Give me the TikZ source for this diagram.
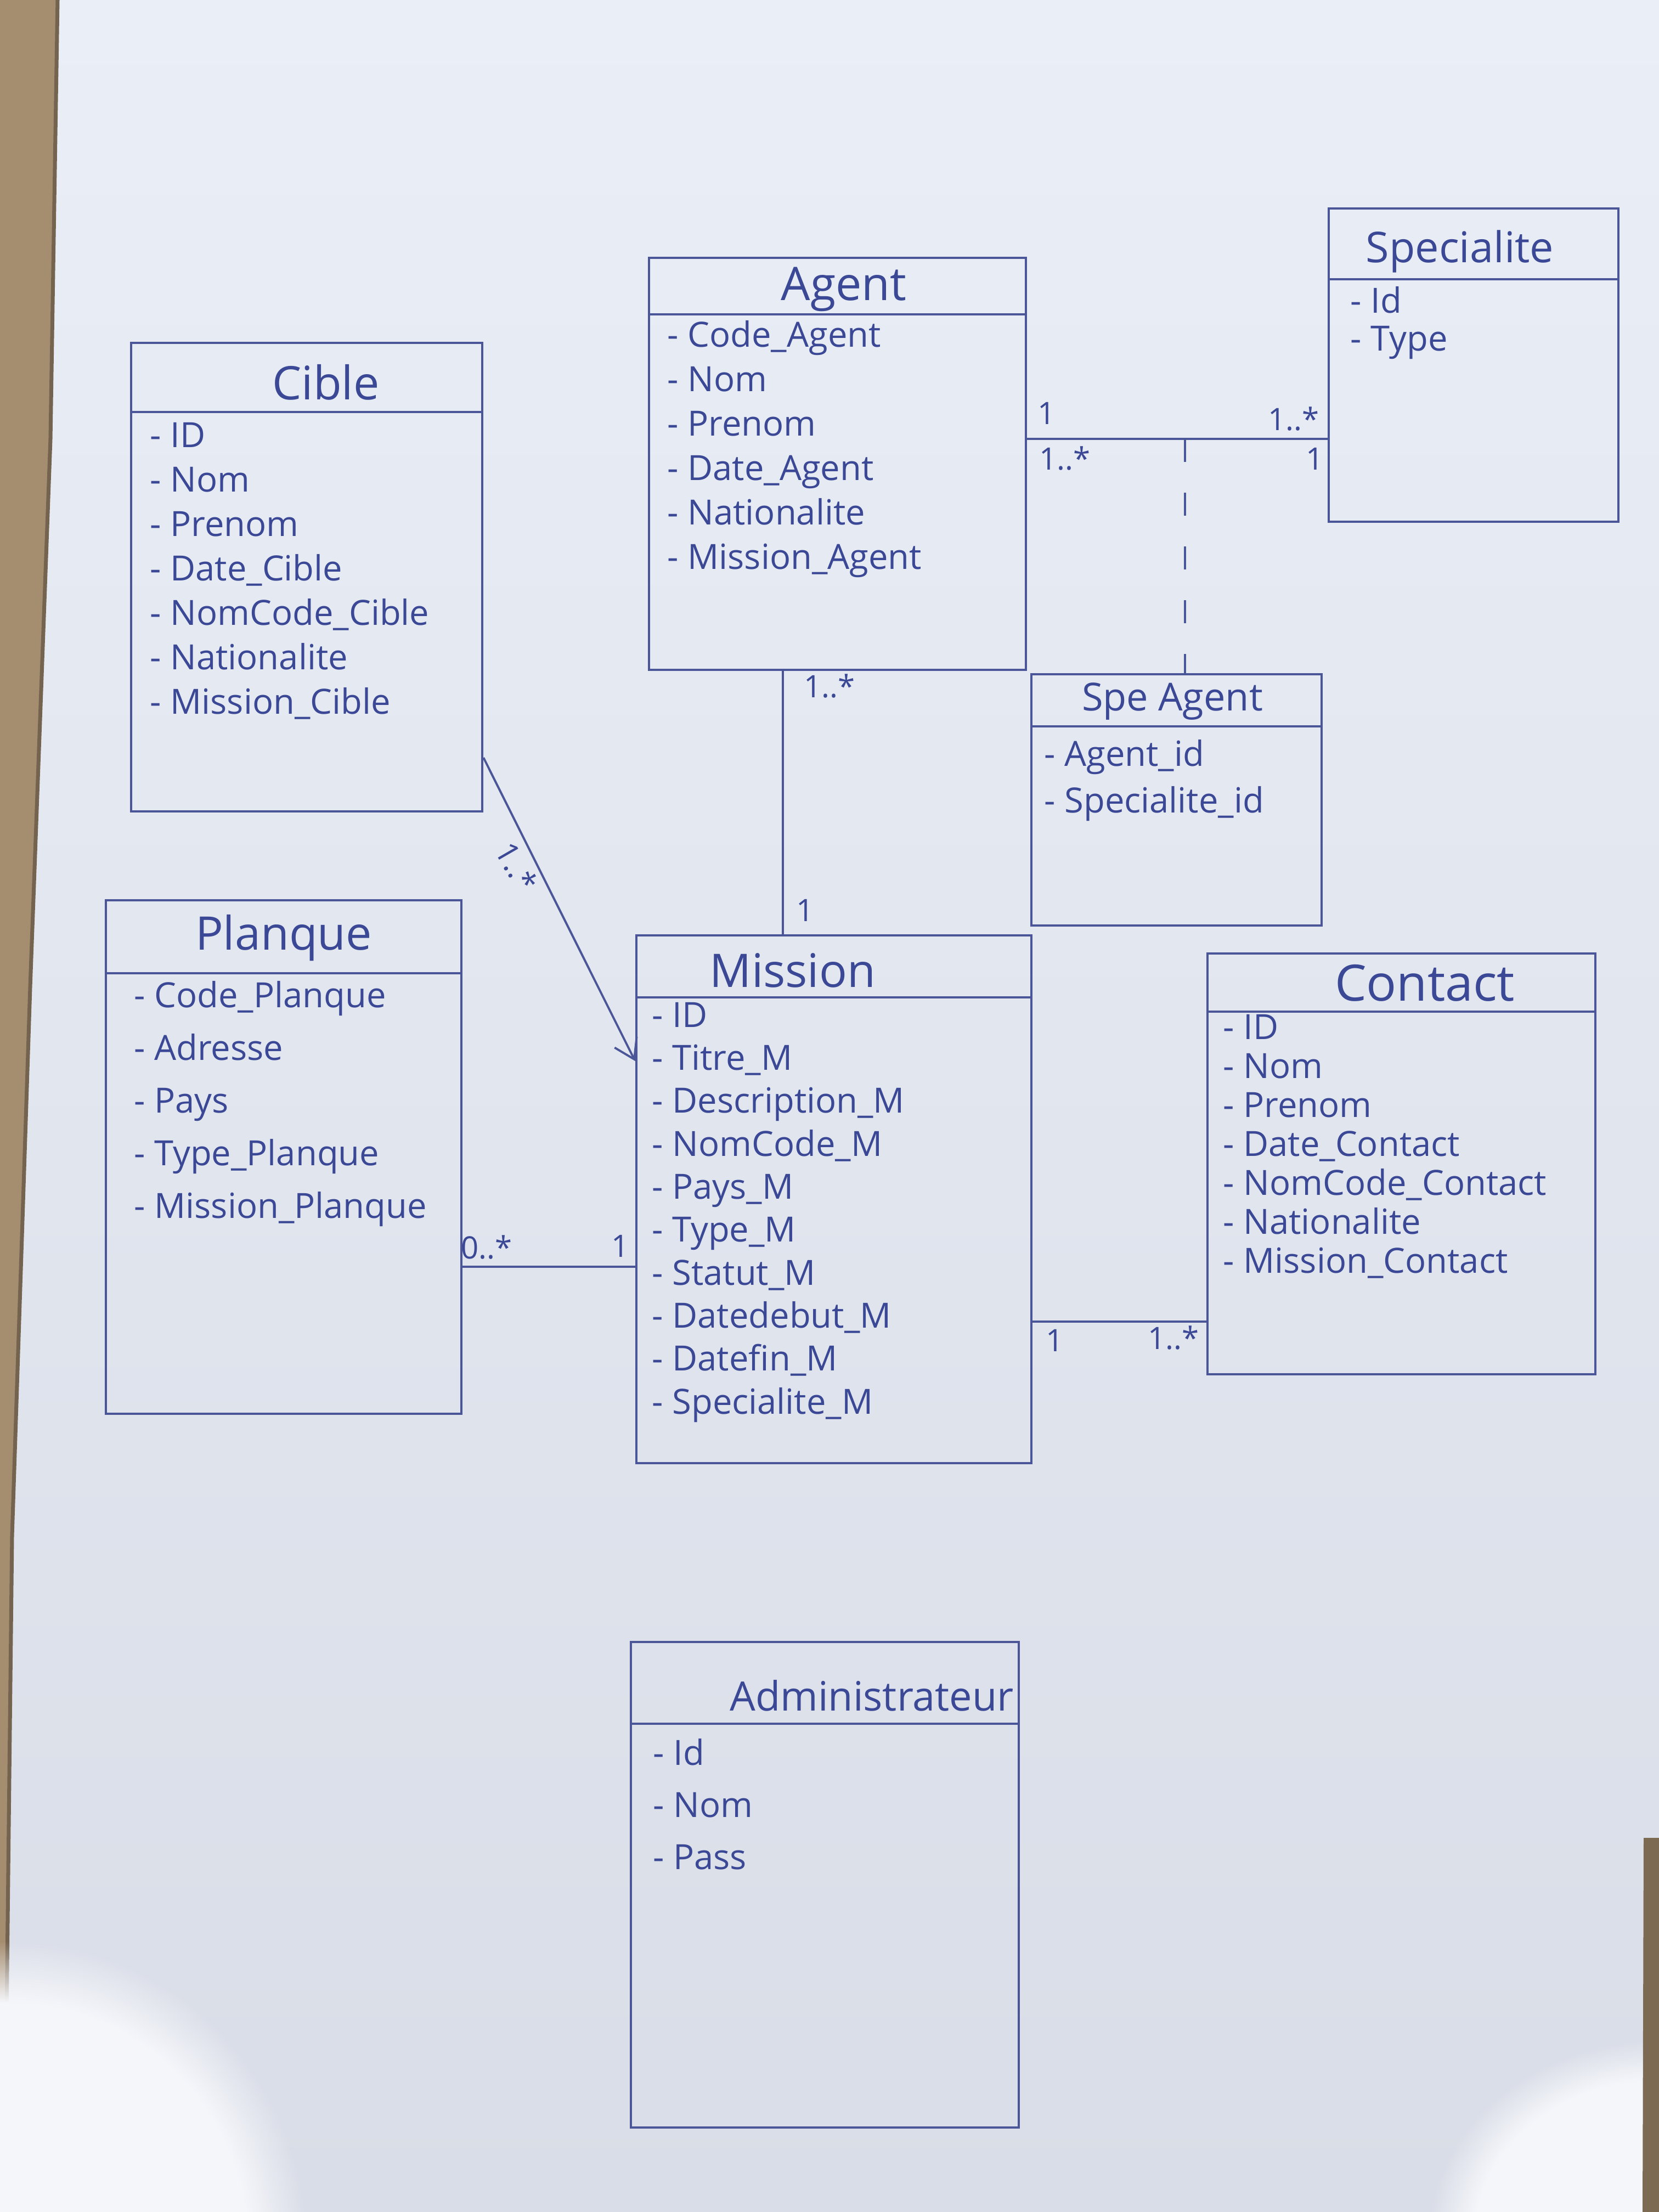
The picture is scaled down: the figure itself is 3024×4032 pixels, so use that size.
\documentclass[tikz,border=0pt]{standalone}
\usepackage{fontspec}
\setmainfont{Open Sans}
\usetikzlibrary{arrows.meta,fadings}

\definecolor{paper}{HTML}{EAEEF6}
\definecolor{paperlow}{HTML}{D9DDE7}
\definecolor{wood}{HTML}{A58D6F}
\definecolor{ink}{HTML}{3A4896}
\definecolor{pen}{HTML}{4B5698}
\definecolor{glare}{HTML}{F5F6FA}

\tikzset{
  classbox/.style={draw=pen, line width=1.2pt, inner sep=0pt, rectangle},
  sepline/.style={draw=pen, line width=1.2pt},
  assoc/.style={draw=pen, line width=1.1pt},
  classtitle/.style={text=ink, font=\fontsize{24}{28}\selectfont, inner sep=0pt},
  attr/.style={text=ink, font=\fontsize{18}{22}\selectfont, anchor=west,
               inner sep=0pt, text height=1.4ex, text depth=.3ex},
  mult/.style={text=ink, font=\fontsize{16}{19}\selectfont, inner sep=0pt},
}

% attribute rows of a class: prefix, x, first row y, row step, list
\newcommand\attrlist[5]{%
  \foreach \t [count=\i from 0] in {#5}
    \node[attr] (#1-\i) at (#2, #3+\i*#4) {- \t};
}

\begin{document}
\begin{tikzpicture}[x=0.01cm, y=-0.01cm]
\useasboundingbox (0,0) rectangle (3024,4032);

% sheet of paper on the desk
\shade[top color=paper, bottom color=paperlow] (0,0) rectangle (3024,4032);
\fill[wood] (0,0) -- (105,0) -- (92,800) -- (55,1800) -- (22,2800) -- (8,4032) -- (0,4032) -- cycle;
\draw[wood!70!black, line width=2pt] (105,0) -- (92,800) -- (55,1800) -- (22,2800) -- (8,4032);
\begin{scope}
  \clip (0,0) rectangle (3024,4032);
  \fill[glare, path fading=circle with fuzzy edge 20 percent]
    (20,4100) ellipse [x radius=5.4cm, y radius=5.6cm];
  \fill[glare, path fading=circle with fuzzy edge 20 percent]
    (3024,4080) ellipse [x radius=4.2cm, y radius=3.6cm];
\end{scope}
\fill[wood!75!black] (2996,3350) -- (3024,3350) -- (3024,4032) -- (2994,4032) -- cycle;

% ---------- classes ----------
% Agent
\node[classbox, minimum width=6.87cm, minimum height=7.51cm] (agent) at (1526.5,845.5) {};
\draw[sepline] (agent.west |- 0,573) -- (agent.east |- 0,573);
\node[classtitle] (agent-t) at (1538,527) {Agent};
\attrlist{agent}{1216}{622}{81}{Code\_Agent,Nom,Prenom,Date\_Agent,Nationalite,Mission\_Agent}

% Specialite
\node[classbox, minimum width=5.28cm, minimum height=5.71cm] (spec) at (2686,665.5) {};
\draw[sepline] (spec.west |- 0,509) -- (spec.east |- 0,509);
\node[classtitle, font=\fontsize{22}{26}\selectfont] (spec-t) at (2661,458) {Specialite};
\attrlist{spec}{2461}{560}{69}{Id,Type}

% Cible
\node[classbox, minimum width=6.40cm, minimum height=8.54cm] (cible) at (559,1052) {};
\draw[sepline] (cible.west |- 0,751) -- (cible.east |- 0,751);
\node[classtitle] (cible-t) at (594,697) {Cible};
\attrlist{cible}{273}{805}{81}{ID,Nom,Prenom,Date\_Cible,NomCode\_Cible,Nationalite,Mission\_Cible}

% SpeAgent
\node[classbox, minimum width=5.29cm, minimum height=4.58cm] (spe) at (2144.5,1458) {};
\draw[sepline] (spe.west |- 0,1324) -- (spe.east |- 0,1324);
\node[classtitle, font=\fontsize{20}{24}\selectfont] (spe-t) at (2137,1278) {Spe Agent};
\attrlist{spe}{1903}{1386}{85}{Agent\_id,Specialite\_id}

% Planque
\node[classbox, minimum width=6.48cm, minimum height=9.36cm] (planque) at (517,2109) {};
\draw[sepline] (planque.west |- 0,1774) -- (planque.east |- 0,1774);
\node[classtitle] (planque-t) at (517,1710) {Planque};
\attrlist{planque}{244}{1826}{96}{Code\_Planque,Adresse,Pays,Type\_Planque,Mission\_Planque}

% Mission
\node[classbox, minimum width=7.20cm, minimum height=9.62cm] (mission) at (1520,2186) {};
\draw[sepline] (mission.west |- 0,1818) -- (mission.east |- 0,1818);
\node[classtitle] (mission-t) at (1445,1769) {Mission};
\attrlist{mission}{1188}{1862}{78.3}{ID,Titre\_M,Description\_M,NomCode\_M,Pays\_M,Type\_M,Statut\_M,Datedebut\_M,Datefin\_M,Specialite\_M}

% Contact
\node[classbox, minimum width=7.07cm, minimum height=7.67cm] (contact) at (2554.5,2121.5) {};
\draw[sepline] (contact.west |- 0,1844) -- (contact.east |- 0,1844);
\node[classtitle, font=\fontsize{26}{30}\selectfont] (contact-t) at (2597,1792) {Contact};
\attrlist{contact}{2229}{1884}{71}{ID,Nom,Prenom,Date\_Contact,NomCode\_Contact,Nationalite,Mission\_Contact}

% Administrateur
\node[classbox, minimum width=7.07cm, minimum height=8.85cm] (admin) at (1503.5,3435.5) {};
\draw[sepline] (admin.west |- 0,3142) -- (admin.east |- 0,3142);
\node[classtitle, font=\fontsize{21}{25}\selectfont] (admin-t) at (1589,3091) {Administrateur};
\attrlist{admin}{1190}{3207}{95}{Id,Nom,Pass}

% ---------- associations ----------
% Agent -- Specialite, with the SpeAgent association class
\coordinate (asJ) at (2160,800);
\draw[assoc] (agent.east |- 0,800) -- (spec.west |- 0,800);
\draw[assoc, dash pattern=on 0.42cm off 0.56cm] (asJ) -- (asJ |- spe.north);
\node[mult] (m1) at (1908,753) {1};
\node[mult] (m2) at (1941,836) {1..*};
\node[mult] (m3) at (2358,764) {1..*};
\node[mult] (m4) at (2397,836) {1};

% Agent -- Mission
\draw[assoc] (1427,0 |- agent.south) -- (1427,0 |- mission.north);
\node[mult] (m5) at (1512,1250) {1..*};
\node[mult] (m6) at (1468,1659) {1};

% Cible -- Mission
\draw[assoc, -{Straight Barb[length=3.5mm, width=4.5mm]}] (cible.east |- 0,1381) -- (mission.west |- 0,1934);
\node[mult, rotate=-60] (m7) at (942,1580) {1..*};

% Planque -- Mission
\draw[assoc] (planque.east |- 0,2309) -- (mission.west |- 0,2309);
\node[mult] (m8) at (887,2273) {0..*};
\node[mult] (m9) at (1131,2271) {1};

% Mission -- Contact
\draw[assoc] (mission.east |- 0,2409) -- (contact.west |- 0,2409);
\node[mult] (m10) at (1923,2443) {1};
\node[mult] (m11) at (2139,2438) {1..*};

\end{tikzpicture}
\end{document}
